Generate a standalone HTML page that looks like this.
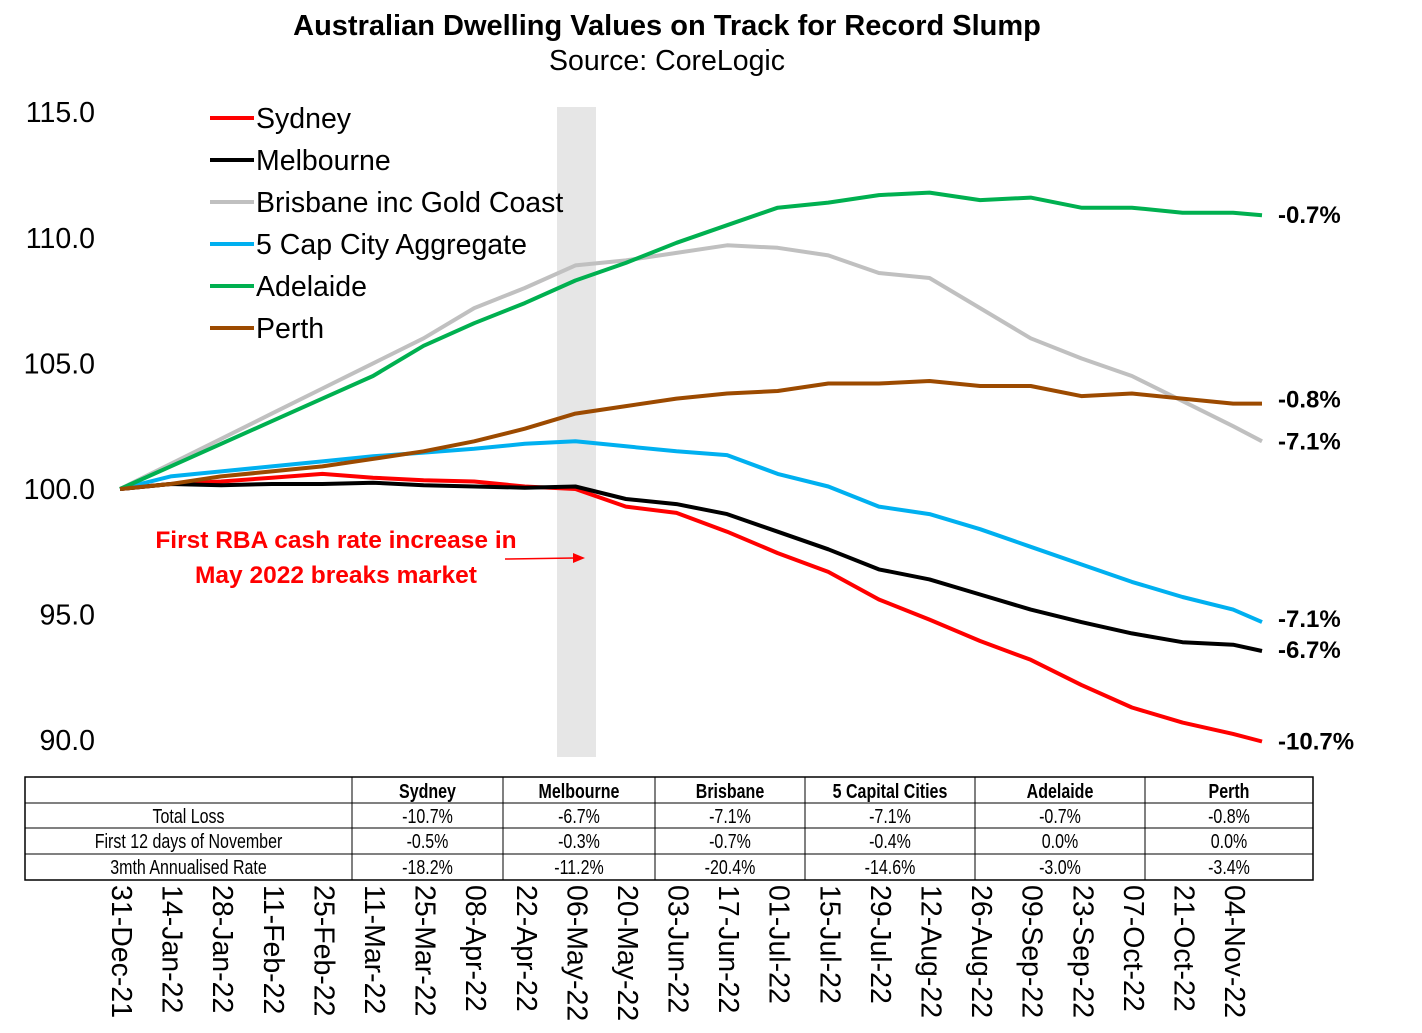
<!DOCTYPE html>
<html><head><meta charset="utf-8"><style>
html,body{margin:0;padding:0;background:#fff;}
svg{display:block;font-family:"Liberation Sans",Arial,sans-serif;}
</style></head><body>
<svg id="chart" width="1422" height="1033" viewBox="0 0 1422 1033">
<text x="667" y="35" text-anchor="middle" font-size="29" font-weight="bold">Australian Dwelling Values on Track for Record Slump</text>
<text x="667" y="70" text-anchor="middle" font-size="28.5">Source: CoreLogic</text>
<rect x="557" y="107" width="39" height="650" fill="#e6e6e6"/>
<g id="yaxis"></g>
<g id="lines"></g>
<g id="endlabels"></g>
<g id="legend"></g>
<text x="336" y="548" text-anchor="middle" font-size="24.5" font-weight="bold" fill="#ff0000">First RBA cash rate increase in</text>
<text x="336" y="583" text-anchor="middle" font-size="24.5" font-weight="bold" fill="#ff0000">May 2022 breaks market</text>
<line x1="505" y1="559" x2="575" y2="558" stroke="#ff0000" stroke-width="1.5"/>
<polygon points="585,558 573,553 573,563" fill="#ff0000"/>
<g id="table"></g>
<g id="xaxis"></g>
</svg>
<script>
const NS="http://www.w3.org/2000/svg";
const dateLabels=["31-Dec-21","14-Jan-22","28-Jan-22","11-Feb-22","25-Feb-22","11-Mar-22","25-Mar-22","08-Apr-22","22-Apr-22","06-May-22","20-May-22","03-Jun-22","17-Jun-22","01-Jul-22","15-Jul-22","29-Jul-22","12-Aug-22","26-Aug-22","09-Sep-22","23-Sep-22","07-Oct-22","21-Oct-22","04-Nov-22"];
const dayOffsets=[0,14,28,42,56,70,84,98,112,126,140,154,168,182,196,210,224,238,252,266,280,294,308,316];
const sydney=[100,100.2,100.3,100.45,100.6,100.45,100.35,100.3,100.1,100,99.3,99.05,98.3,97.45,96.7,95.6,94.8,93.95,93.2,92.2,91.3,90.7,90.25,89.95];
const melbourne=[100,100.2,100.15,100.2,100.2,100.25,100.15,100.1,100.05,100.1,99.6,99.4,99.0,98.3,97.6,96.8,96.4,95.8,95.2,94.7,94.25,93.9,93.8,93.55];
const brisbane=[100,101.0,102.0,103.0,104.0,105.0,106.0,107.2,108.0,108.9,109.1,109.4,109.7,109.6,109.3,108.6,108.4,107.2,106.0,105.2,104.5,103.5,102.5,101.9];
const capAgg=[100,100.5,100.7,100.9,101.1,101.3,101.45,101.6,101.8,101.9,101.7,101.5,101.35,100.6,100.1,99.3,99.0,98.4,97.7,97.0,96.3,95.7,95.2,94.7];
const adelaide=[100,100.9,101.8,102.7,103.6,104.5,105.7,106.6,107.4,108.3,109.0,109.8,110.5,111.2,111.4,111.7,111.8,111.5,111.6,111.2,111.2,111.0,111.0,110.9];
const perth=[100,100.2,100.5,100.7,100.9,101.2,101.5,101.9,102.4,103.0,103.3,103.6,103.8,103.9,104.2,104.2,104.3,104.1,104.1,103.7,103.8,103.6,103.4,103.4];
const endLabels=["-10.7%","-6.7%","-7.1%","-7.1%","-0.7%","-0.8%"];
const yTicks=[90,95,100,105,110,115];
const tableCols=["Sydney","Melbourne","Brisbane","5 Capital Cities","Adelaide","Perth"];
const tableRows=["Total Loss","First 12 days of November","3mth Annualised Rate"];
const tableVals=[["-10.7%","-6.7%","-7.1%","-7.1%","-0.7%","-0.8%"],["-0.5%","-0.3%","-0.7%","-0.4%","0.0%","0.0%"],["-18.2%","-11.2%","-20.4%","-14.6%","-3.0%","-3.4%"]];

const X=d=>120+d*(1262-120)/316;
const Y=v=>489-(v-100)*25.12;
function mk(tag,attrs,parent,txt){const e=document.createElementNS(NS,tag);for(const k in attrs)e.setAttribute(k,attrs[k]);if(txt!==undefined)e.textContent=txt;parent.appendChild(e);return e;}

const ya=document.getElementById('yaxis');
yTicks.forEach(t=>{const e=mk('text',{x:95,y:Y(t)+10,'text-anchor':'end','font-size':28.5},ya,t.toFixed(1));

});

const series=[
 {name:"Sydney",vals:sydney,color:"#ff0000",slug:"sydney"},
 {name:"Melbourne",vals:melbourne,color:"#000000",slug:"melbourne"},
 {name:"Brisbane inc Gold Coast",vals:brisbane,color:"#c0c0c0",slug:"brisbane"},
 {name:"5 Cap City Aggregate",vals:capAgg,color:"#00b0f0",slug:"cap-city-aggregate"},
 {name:"Adelaide",vals:adelaide,color:"#00b050",slug:"adelaide"},
 {name:"Perth",vals:perth,color:"#9c4a00",slug:"perth"}];
const lines=document.getElementById('lines');
const el=document.getElementById('endlabels');
const lg=document.getElementById('legend');
const labelOffsets=[8,7,8,5,8,4];
series.forEach((s,i)=>{
 const pts=s.vals.map((v,j)=>X(dayOffsets[j]).toFixed(1)+','+Y(v).toFixed(1)).join(' ');
 const p=mk('polyline',{points:pts,fill:'none',stroke:s.color,'stroke-width':4,'stroke-linejoin':'round'},lines);
 
 
 const last=s.vals[s.vals.length-1];
 const t=mk('text',{x:1278,y:Y(last)+labelOffsets[i],'font-size':24,'font-weight':'bold'},el,endLabels[i]);
 
 
 const ly=118+i*42;
 const ln=mk('line',{x1:210,y1:ly,x2:254,y2:ly,stroke:s.color,'stroke-width':4},lg);
 
 
 const lt=mk('text',{x:256,y:ly+10,'font-size':28.5},lg,s.name);
 
 
});

const tb=document.getElementById('table');
const colX=[25,352,503,655,805,975,1145,1313];
const rowY=[777,803,828,854,880];
mk('rect',{x:25,y:777,width:1288,height:103,fill:'none',stroke:'#000','stroke-width':1.5},tb);
rowY.slice(1,4).forEach(y=>mk('line',{x1:25,y1:y,x2:1313,y2:y,stroke:'#000','stroke-width':1},tb));
colX.slice(1,7).forEach(x=>mk('line',{x1:x,y1:777,x2:x,y2:880,stroke:'#000','stroke-width':1},tb));
function cell(cx,y,txt,bold,name){
 const g=mk('g',{transform:`translate(${cx},${y}) scale(0.8,1)`},tb);
 const t=mk('text',{x:0,y:0,'text-anchor':'middle','font-size':20,'font-weight':bold?'bold':'normal'},g,txt);
 
 
}
tableCols.forEach((c,i)=>cell((colX[i+1]+colX[i+2])/2,798,c,true,'table-header'));
tableRows.forEach((r,ri)=>{
 cell((colX[0]+colX[1])/2,rowY[ri+1]+20,r,false,'table-row-label');
 tableVals[ri].forEach((v,ci)=>cell((colX[ci+1]+colX[ci+2])/2,rowY[ri+1]+20,v,false,'table-cell'));
});

const xa=document.getElementById('xaxis');
dateLabels.forEach((d,i)=>{
 const x=X(dayOffsets[i])+2;
 const t=mk('text',{x:0,y:0,'font-size':28.5,transform:`translate(${x-10},885) rotate(90)`},xa,d);
 
 
});
</script>
</body></html>
